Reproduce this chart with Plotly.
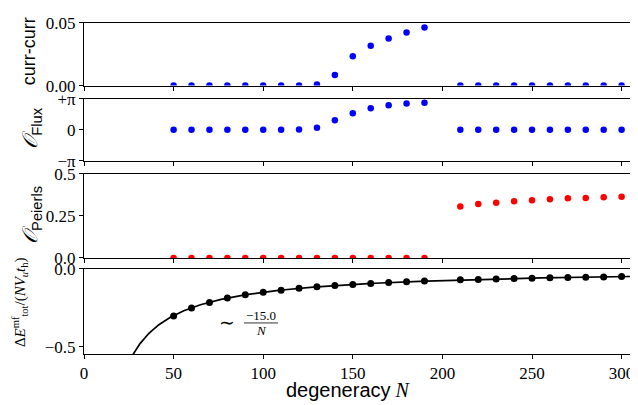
import plotly.graph_objects as go

# ---------------- data ----------------
N_low = [50, 60, 70, 80, 90, 100, 110, 120, 130, 140, 150, 160, 170, 180, 190]
N_high = [210, 220, 230, 240, 250, 260, 270, 280, 290, 300]

curr_low = [0, 0, 0, 0, 0, 0, 0, 0, 0.0008, 0.0084, 0.0233, 0.0317, 0.0374, 0.0421, 0.0461]
curr_high = [0, 0, 0, 0, 0, 0, 0, 0, 0, 0]

flux_low = [0, 0, 0, 0, 0, 0, 0, 0.04, 0.21, 0.98, 1.68, 2.20, 2.51, 2.69, 2.76]
flux_high = [0, 0, 0, 0, 0, 0, 0, 0, 0, 0]

peierls_low = [0] * 15
peierls_high = [0.306, 0.320, 0.328, 0.336, 0.342, 0.348, 0.354, 0.356, 0.360, 0.364]

N_all = N_low + N_high
energy = [-0.302, -0.252, -0.216, -0.188, -0.167, -0.150, -0.137, -0.125, -0.115,
          -0.107, -0.100, -0.094, -0.088, -0.083, -0.079,
          -0.071, -0.068, -0.065, -0.062, -0.060, -0.058, -0.056, -0.054, -0.052, -0.050]

FIT_COEF = -15.0
fit_N = [27 + i * 0.5 for i in range(0, 570)]
fit_E = [FIT_COEF / n for n in fit_N]

x_ticks = [0, 50, 100, 150, 200, 250, 300]

# ---------------- geometry (window px -> figure px, page body has 8px margin) ----------------
OFF = 8
W, H = 638 - OFF, 405 - OFF
L, R, T, B = 84 - OFF, 0, 2, 51
ph = H - T - B
XMAX = (W - L - R) / 1.792


def fy(p):
    return p - OFF


def dom(top_px, bot_px):
    return [(H - B - fy(bot_px)) / ph, (H - B - fy(top_px)) / ph]


def px_x(p):
    return (p - OFF - L) / (W - L - R)


def px_y(p):
    return (H - B - fy(p)) / ph


serif = "Liberation Serif"
sans = "Liberation Sans"
blue = "#0000ff"
red = "#ff0000"

fig = go.Figure()
mk = dict(size=6.5)
fig.add_trace(go.Scatter(x=N_low, y=curr_low, mode="markers", marker=dict(color=blue, **mk), xaxis="x", yaxis="y"))
fig.add_trace(go.Scatter(x=N_high, y=curr_high, mode="markers", marker=dict(color=blue, **mk), xaxis="x", yaxis="y"))
fig.add_trace(go.Scatter(x=N_low, y=flux_low, mode="markers", marker=dict(color=blue, **mk), xaxis="x2", yaxis="y2"))
fig.add_trace(go.Scatter(x=N_high, y=flux_high, mode="markers", marker=dict(color=blue, **mk), xaxis="x2", yaxis="y2"))
fig.add_trace(go.Scatter(x=N_low, y=peierls_low, mode="markers", marker=dict(color=red, **mk), xaxis="x3", yaxis="y3"))
fig.add_trace(go.Scatter(x=N_high, y=peierls_high, mode="markers", marker=dict(color=red, **mk), xaxis="x3", yaxis="y3"))
fig.add_trace(go.Scatter(x=fit_N, y=fit_E, mode="lines", line=dict(color="black", width=1.7), xaxis="x4", yaxis="y4"))
fig.add_trace(go.Scatter(x=N_all, y=energy, mode="markers", marker=dict(color="black", size=7), xaxis="x4", yaxis="y4"))

xcommon = dict(range=[0, XMAX], showline=True, linecolor="black", linewidth=1, mirror=True,
               ticks="outside", ticklen=4, tickcolor="black", tickvals=x_ticks,
               showgrid=False, zeroline=False,
               tickfont=dict(family=serif, size=17, color="black"))
ycommon = dict(showline=True, linecolor="black", linewidth=1, ticks="outside", ticklen=4,
               tickcolor="black", showgrid=False, zeroline=False,
               tickfont=dict(family=serif, size=17, color="black"))

doms = [dom(15.7, 80), dom(93.3, 157), dom(170, 256), dom(267, 354)]

layout = dict(
    width=W, height=H, margin=dict(l=L, r=R, t=T, b=B),
    paper_bgcolor="white", plot_bgcolor="white", showlegend=False,
    xaxis=dict(xcommon, anchor="y", showticklabels=False),
    xaxis2=dict(xcommon, anchor="y2", showticklabels=False),
    xaxis3=dict(xcommon, anchor="y3", showticklabels=False),
    xaxis4=dict(xcommon, anchor="y4", showticklabels=True, ticktext=[str(v) for v in x_ticks]),
    yaxis=dict(ycommon, domain=doms[0], anchor="x", range=[0, 0.05], tickvals=[0, 0.05], ticktext=["0.00", "0.05"]),
    yaxis2=dict(ycommon, domain=doms[1], anchor="x2", range=[-3.18, 3.18], tickvals=[-3.14159, 0, 3.14159],
                ticktext=["−π", "0", "+π"]),
    yaxis3=dict(ycommon, domain=doms[2], anchor="x3", range=[0, 0.5], tickvals=[0, 0.25, 0.5],
                ticktext=["0.0", "0.25", "0.5"]),
    yaxis4=dict(ycommon, domain=doms[3], anchor="x4", range=[-0.546, 0], tickvals=[-0.5, 0],
                ticktext=["−0.5", "0.0"]),
)
fig.update_layout(**layout)

ann = []
ann.append(dict(text="curr-curr", x=px_x(29), y=px_y(45), xref="paper", yref="paper", textangle=-90,
                showarrow=False, font=dict(family=sans, size=18, color="black"), xanchor="center", yanchor="middle"))
ann.append(dict(text="<i>𝒪</i><sub><span style='font-family:Liberation Sans'>Flux</span></sub>",
                x=px_x(31), y=px_y(124), xref="paper", yref="paper", textangle=-90,
                showarrow=False, font=dict(family=serif, size=21, color="black"), xanchor="center", yanchor="middle"))
ann.append(dict(text="<i>𝒪</i><sub><span style='font-family:Liberation Sans'>Peierls</span></sub>",
                x=px_x(31), y=px_y(212), xref="paper", yref="paper", textangle=-90,
                showarrow=False, font=dict(family=serif, size=21, color="black"), xanchor="center", yanchor="middle"))
ann.append(dict(text="Δ<i>E</i><sup>mf</sup><sub>tot</sub>/(<i>NV</i><sub><i>u</i></sub><i>t</i><sub>h</sub>)",
                x=px_x(20), y=px_y(301), xref="paper", yref="paper", textangle=-90,
                showarrow=False, font=dict(family=serif, size=15, color="black"), xanchor="center", yanchor="middle"))
ann.append(dict(text="<span style='font-family:Liberation Sans'>degeneracy</span> <i>N</i>",
                x=px_x(348), y=px_y(391), xref="paper", yref="paper",
                showarrow=False, font=dict(family=serif, size=20, color="black"), xanchor="center", yanchor="middle"))
# fit label
ann.append(dict(text="∼", x=79.6, y=-0.347, xref="x4", yref="y4", showarrow=False,
                font=dict(family=serif, size=19, color="black"), xanchor="center", yanchor="middle"))
ann.append(dict(text="−15.0", x=98.8, y=-0.302, xref="x4", yref="y4", showarrow=False,
                font=dict(family=serif, size=13, color="black"), xanchor="center", yanchor="middle"))
ann.append(dict(text="<i>N</i>", x=98.8, y=-0.394, xref="x4", yref="y4", showarrow=False,
                font=dict(family=serif, size=13, color="black"), xanchor="center", yanchor="middle"))
fig.update_layout(annotations=ann)
fig.add_shape(type="line", x0=89.3, x1=108.3, y0=-0.347, y1=-0.347, xref="x4", yref="y4",
              line=dict(color="black", width=0.8))

fig.write_html("out.html")
